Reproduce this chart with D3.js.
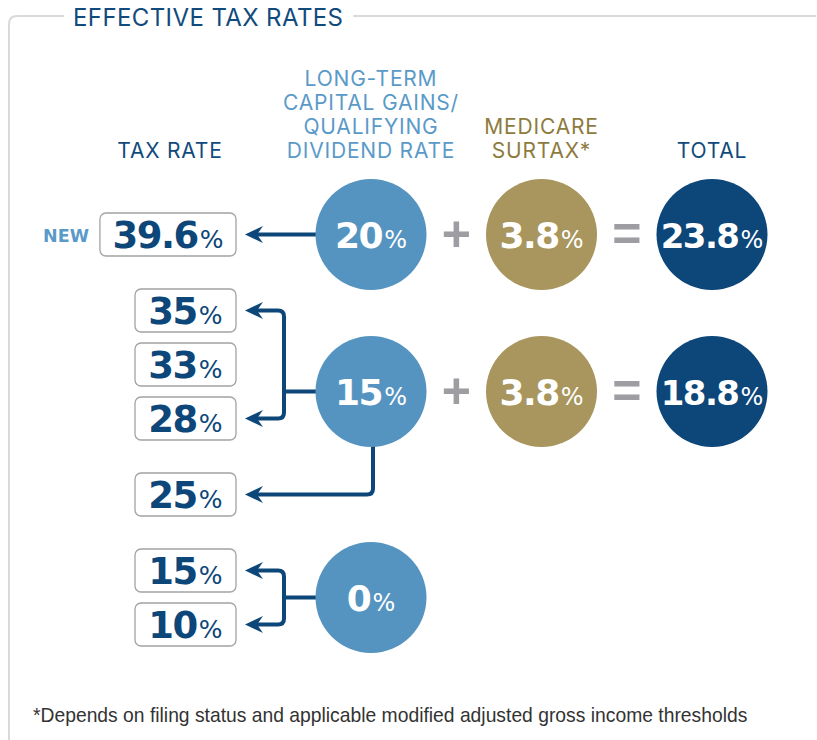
<!DOCTYPE html>
<html>
<head>
<meta charset="utf-8">
<script src="https://cdn.jsdelivr.net/npm/d3@7"></script>
<style>
body { margin: 0; background: #fff; }
svg { display: block; }
</style>
</head>
<body>
<svg id="viz" width="817" height="740"></svg>
<script>
// data
var taxRates = ["39.6", "35", "33", "28", "25", "15", "10"];
var rateGroup = [0, 1, 1, 1, 1, 2, 2];   // which cap gains rate applies to each tax rate
var rateBranch = [0, 1, 1, 1, 2, 3, 3];  // which arrow the box hangs off
var newRates = ["39.6"];
var capGainsRates = ["20", "15", "0"];
var surtaxRates = ["3.8", "3.8"];
var totalRates = ["23.8", "18.8"];

var columns = ["capGains", "surtax", "total"];
var taxRateHeader = ["TAX RATE"];
var capGainsHeader = ["LONG-TERM", "CAPITAL GAINS/", "QUALIFYING", "DIVIDEND RATE"];
var surtaxHeader = ["MEDICARE", "SURTAX*"];
var totalHeader = ["TOTAL"];
var title = "EFFECTIVE TAX RATES";
var footnote = "*Depends on filing status and applicable modified adjusted gross income thresholds";

var darkBlue = "#0d4679";
var lightBlue = "#5594c0";
var gold = "#a8965e";
var opGray = "#9d9da2";
var numFont = "'DejaVu Sans', sans-serif";
var headFont = "Inter, 'Open Sans', sans-serif";

var svg = d3.select("#viz");

var titleText = svg.append("text")
    .attr("x", 73)
    .attr("y", 26)
    .style("font-family", headFont)
    .style("font-size", "24px")
    .style("letter-spacing", "0.4px")
    .style("fill", "#114a7c")
    .text(title);
var titleEnd = 73 + titleText.node().getComputedTextLength();

// frame round the whole thing
svg.append("path")
    .attr("d", "M9,740V24Q9,16 17,16H64M" + (titleEnd + 10) + ",16H816")
    .attr("fill", "none")
    .attr("stroke", "#d9d9d9")
    .attr("stroke-width", 2);

// scales
var radius = 55.5;
var colX = d3.scalePoint().domain(columns).range([371, 712]);
var boxRight = 236;
var branchGap = 22 / 54;
var rowY = d3.scaleLinear().domain([0, 1]).range([234.5, 288.5]);

var slots = taxRates.map(function (r, i) {
    return i + rateBranch[i] * branchGap;
});
var boxY = slots.map(function (s) { return rowY(s); });

// circle rows: each group sits beside its first bracket
var circleY = capGainsRates.map(function (c, g) {
    var firstBranch = d3.min(rateBranch.filter(function (b, i) { return rateGroup[i] === g; }));
    var ys = boxY.filter(function (y, i) { return rateBranch[i] === firstBranch; });
    return ys.length === 1 ? ys[0] : (ys[ys.length - 2] + ys[ys.length - 1]) / 2;
});

// column headers
function header(lines, x, color) {
    var lastBase = 158;
    lines.forEach(function (t, i) {
        svg.append("text")
            .attr("x", x)
            .attr("y", lastBase - (lines.length - 1 - i) * 24)
            .attr("text-anchor", "middle")
            .style("font-family", headFont)
            .style("font-size", "21px")
            .style("letter-spacing", "0.8px")
            .style("fill", color)
            .text(t);
    });
}
header(taxRateHeader, 170, "#114a7c");
header(capGainsHeader, colX("capGains"), "#5a9ac8");
header(surtaxHeader, colX("surtax"), "#8d7b3e");
header(totalHeader, colX("total"), "#114a7c");

// a number with a small lighter % sign
function pctText(g, value, x, y, color, big, small) {
    var t = g.append("text")
        .attr("x", x)
        .attr("y", y)
        .attr("text-anchor", "middle")
        .style("font-family", numFont)
        .style("fill", color);
    t.append("tspan")
        .style("font-size", big + "px")
        .style("font-weight", 700)
        .style("letter-spacing", "-1.5px")
        .text(value);
    t.append("tspan")
        .attr("dx", 2)
        .style("font-size", small + "px")
        .style("font-weight", 400)
        .text("%");
    return t;
}

// connectors first so circles and boxes sit on top
var lineG = svg.append("g")
    .attr("fill", "none")
    .attr("stroke", darkBlue)
    .attr("stroke-width", 4)
    .attr("stroke-linejoin", "round");
var tipX = boxRight + 9;
var arrowLen = 18;
var bracketX = 284;
var rr = 6;

function arrowHead(y) {
    svg.append("path")
        .attr("d", "M" + tipX + "," + y + "L" + (tipX + arrowLen) + "," + (y - 8.5) +
            "L" + (tipX + 12) + "," + y + "L" + (tipX + arrowLen) + "," + (y + 8.5) + "Z")
        .attr("fill", darkBlue);
}

d3.range(4).forEach(function (b) {
    var idx = d3.range(taxRates.length).filter(function (i) { return rateBranch[i] === b; });
    var g = rateGroup[idx[0]];
    var cx = colX("capGains"), cy = circleY[g];
    var ys = idx.map(function (i) { return boxY[i]; });
    var x0 = tipX + 10;
    if (ys.length === 1 && Math.abs(ys[0] - cy) < 1) {
        // straight arrow
        lineG.append("path").attr("d", "M" + (cx - radius + 2) + "," + cy + "H" + x0);
        arrowHead(ys[0]);
    } else if (ys.length === 1) {
        // drop from bottom of circle then left
        var y = ys[0], vx = cx + 2;
        lineG.append("path")
            .attr("d", "M" + vx + "," + (cy + radius - 2) + "V" + (y - rr) +
                "Q" + vx + "," + y + " " + (vx - rr) + "," + y + "H" + x0);
        arrowHead(y);
    } else {
        // bracket: arrows only to the outer boxes
        var yTop = d3.min(ys), yBot = d3.max(ys);
        lineG.append("path")
            .attr("d", "M" + x0 + "," + yTop + "H" + (bracketX - rr) +
                "Q" + bracketX + "," + yTop + " " + bracketX + "," + (yTop + rr) +
                "V" + (yBot - rr) +
                "Q" + bracketX + "," + yBot + " " + (bracketX - rr) + "," + yBot + "H" + x0);
        lineG.append("path").attr("d", "M" + (cx - radius + 2) + "," + cy + "H" + bracketX);
        arrowHead(yTop);
        arrowHead(yBot);
    }
});

// tax rate boxes
var boxH = 43;
taxRates.forEach(function (r, i) {
    var g = svg.append("g");
    var rect = g.append("rect")
        .attr("y", boxY[i] - boxH / 2)
        .attr("height", boxH)
        .attr("rx", 6)
        .attr("fill", "#fff")
        .attr("stroke", "#a3a3a3")
        .attr("stroke-width", 1.3);
    var t = pctText(g, r, 0, boxY[i] + 13.5, darkBlue, 37, 25);
    var w = Math.max(101, t.node().getComputedTextLength() + 27);
    rect.attr("x", boxRight - w).attr("width", w);
    t.attr("x", boxRight - w / 2);
    if (newRates.indexOf(r) >= 0) {
        svg.append("text")
            .attr("x", boxRight - w - 11)
            .attr("y", boxY[i] + 7)
            .attr("text-anchor", "end")
            .style("font-family", numFont)
            .style("font-weight", 700)
            .style("font-size", "17.5px")
            .style("fill", "#5a9ac8")
            .text("NEW");
    }
});

// circles
function circleCol(values, col, color) {
    values.forEach(function (v, g) {
        var cg = svg.append("g");
        cg.append("circle")
            .attr("cx", colX(col))
            .attr("cy", circleY[g])
            .attr("r", radius)
            .attr("fill", color);
        var size = v.length > 3 ? 34 : 36;
        pctText(cg, v, colX(col), circleY[g] + 13, "#fff", size, 24);
    });
}
circleCol(capGainsRates, "capGains", lightBlue);
circleCol(surtaxRates, "surtax", gold);
circleCol(totalRates, "total", darkBlue);

// + and = between the circles
surtaxRates.forEach(function (s, g) {
    [["+", (colX("capGains") + colX("surtax")) / 2], ["=", (colX("surtax") + colX("total")) / 2]]
        .forEach(function (op) {
            svg.append("text")
                .attr("x", op[1])
                .attr("y", circleY[g] + 16)
                .attr("text-anchor", "middle")
                .style("font-family", "'Liberation Sans', sans-serif")
                .style("font-weight", 700)
                .style("font-size", "50px")
                .style("fill", opGray)
                .text(op[0]);
        });
});

// footnote is set in a condensed face; squeeze it to the same width
var foot = svg.append("text")
    .attr("x", 0)
    .attr("y", 0)
    .style("font-family", "'Liberation Sans', sans-serif")
    .style("font-size", "20px")
    .style("fill", "#333")
    .text(footnote);
var fw = foot.node().getComputedTextLength();
foot.attr("transform", "translate(33,722) scale(" + (715 / fw) + ",1)");
</script>
</body>
</html>
